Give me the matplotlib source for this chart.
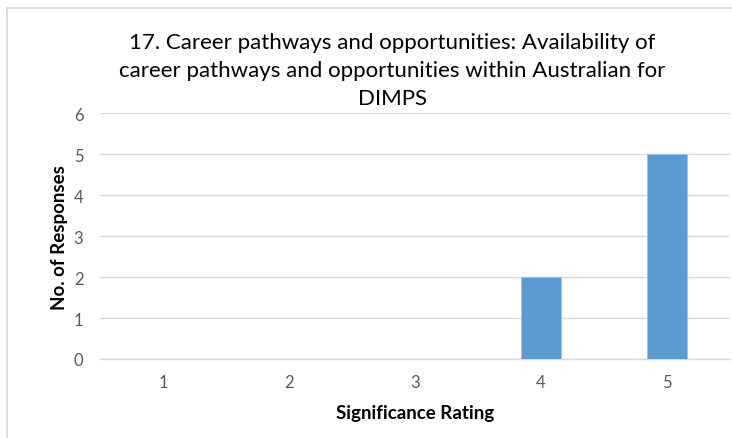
import matplotlib.pyplot as plt
from matplotlib.lines import Line2D

# chart data
ratings = ["1", "2", "3", "4", "5"]
responses = [0, 0, 0, 2, 5]
y_ticks = [0, 1, 2, 3, 4, 5, 6]

title = ("17. Career pathways and opportunities: Availability of\n"
         "career pathways and opportunities within Australian for\n"
         "DIMPS")

plt.rcParams['font.family'] = ['Lato', 'DejaVu Sans']

fig = plt.figure(figsize=(7.32, 4.39), dpi=100)
ax = fig.add_axes([100 / 732, 1 - 360 / 439, 630 / 732, 245.7 / 439])

x = range(len(ratings))
ax.bar(x, responses, width=0.31, color="#5B9BD5", edgecolor="#9DC3E6",
       linewidth=0.6, zorder=3)

ax.set_xlim(-0.5, len(ratings) - 0.5)
ax.set_ylim(0, 6)
ax.set_yticks(y_ticks)
ax.set_xticks(list(x))
ax.set_xticklabels(ratings)
ax.grid(axis="y", color="#D9D9D9", linewidth=1, zorder=0)
for s in ["top", "right", "left"]:
    ax.spines[s].set_visible(False)
ax.spines["bottom"].set_color("#D9D9D9")
ax.spines["bottom"].set_linewidth(1)
ax.tick_params(length=0, labelsize=12, labelcolor="#595959")
ax.tick_params(axis="y", pad=12)
ax.tick_params(axis="x", pad=11)

ax.set_xlabel("Significance Rating", fontsize=13.5, fontweight="bold",
              labelpad=10)
ax.set_ylabel("No. of Responses", fontsize=13.5, fontweight="bold",
              labelpad=4)

fig.text(392 / 732, 1 - 71 / 439, title, ha="center", va="center",
         fontsize=16, linespacing=1.48, color="#000000")

# chart area border (left and top edges visible)
fig.add_artist(Line2D([6.5 / 732, 6.5 / 732], [0, 1 - 9 / 439],
                      transform=fig.transFigure, color="#D9D9D9", lw=1.3))
fig.add_artist(Line2D([6.5 / 732, 1.0], [1 - 9 / 439, 1 - 9 / 439],
                      transform=fig.transFigure, color="#D9D9D9", lw=1.3))

fig.savefig("out.png", dpi=100)
